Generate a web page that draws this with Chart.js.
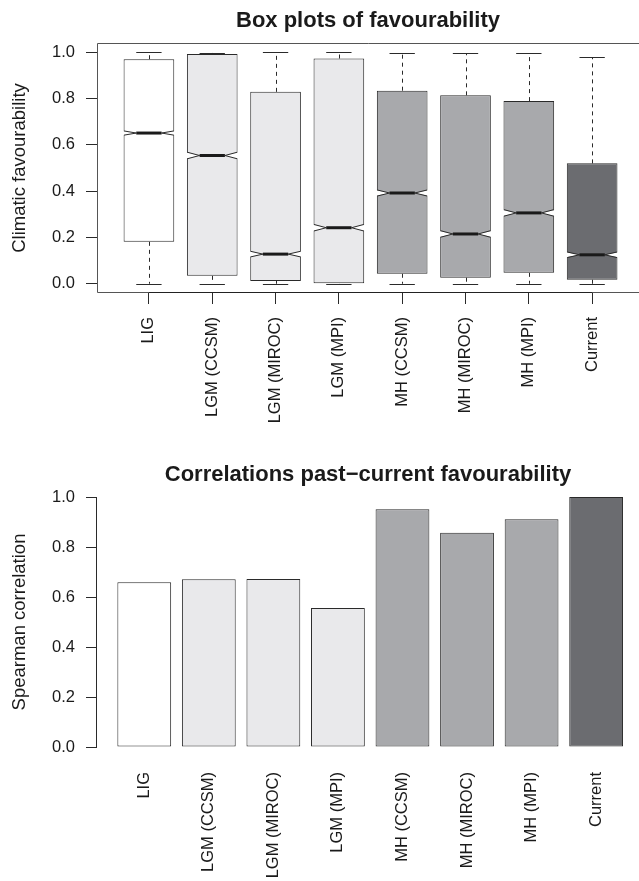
<!DOCTYPE html>
<html>
<head>
<meta charset="utf-8">
<script src="https://cdn.jsdelivr.net/npm/chart.js@4/dist/chart.umd.min.js"></script>
<style>
  body { margin: 0; background: #fff; }
  canvas { display: block; }
</style>
</head>
<body>
<canvas id="box-chart" width="639" height="430"></canvas>
<canvas id="corr-chart" width="639" height="451"></canvas>
<script>
const categories = ['LIG', 'LGM (CCSM)', 'LGM (MIROC)', 'LGM (MPI)', 'MH (CCSM)', 'MH (MIROC)', 'MH (MPI)', 'Current'];
const yTicks = [0, 0.2, 0.4, 0.6, 0.8, 1.0];

// box plot stats
const whiskerLow = [0, 0, 0, 0, 0, 0, 0, 0];
const lowerQuartile = [0.181, 0.034, 0.012, 0.0, 0.043, 0.026, 0.047, 0.017];
const medians = [0.651, 0.554, 0.128, 0.242, 0.392, 0.215, 0.306, 0.125];
const upperQuartile = [0.970, 0.993, 0.829, 0.973, 0.834, 0.814, 0.789, 0.520];
const whiskerHigh = [1.0, 0.997, 1.0, 1.0, 0.997, 0.997, 0.995, 0.978];
const notchHalf = [0.009, 0.014, 0.012, 0.014, 0.013, 0.014, 0.014, 0.012];

// spearman correlations past vs current
const correlations = [0.659, 0.671, 0.672, 0.556, 0.951, 0.857, 0.911, 1.0];

const fills = ['#ffffff', '#e9e9eb', '#e9e9eb', '#e9e9eb', '#a8a9ac', '#a8a9ac', '#a8a9ac', '#6b6c70'];
const ink = '#2a2a2a';

Chart.defaults.font.family = '"Liberation Sans", Arial, Helvetica, sans-serif';
Chart.defaults.color = '#1a1a1a';
Chart.defaults.animation = false;

const categoryTicks = (axis) => { axis.ticks = categories.map((_, i) => ({ value: i + 1 })); };
const valueTicks = (axis) => { axis.ticks = yTicks.map((value) => ({ value })); };

function line(ctx, x1, y1, x2, y2) {
  ctx.beginPath();
  ctx.moveTo(x1, y1);
  ctx.lineTo(x2, y2);
  ctx.stroke();
}

const boxExtras = {
  id: 'boxExtras',
  afterDatasetsDraw(chart) {
    const { ctx, chartArea, scales: { x, y } } = chart;
    const bars = chart.getDatasetMeta(0).data;
    ctx.save();
    ctx.strokeStyle = ink;
    ctx.lineWidth = 1;
    bars.forEach((bar, i) => {
      const cx = Math.round(bar.x) + 0.5;
      const half = bar.width / 2;
      const inset = half / 2;
      const yMed = y.getPixelForValue(medians[i]);
      const yUp = y.getPixelForValue(medians[i] + notchHalf[i]);
      const yLo = y.getPixelForValue(medians[i] - notchHalf[i]);

      ctx.setLineDash([4, 4]);
      line(ctx, cx, y.getPixelForValue(upperQuartile[i]), cx, y.getPixelForValue(whiskerHigh[i]));
      line(ctx, cx, y.getPixelForValue(lowerQuartile[i]), cx, y.getPixelForValue(whiskerLow[i]));
      ctx.setLineDash([]);
      [whiskerHigh[i], whiskerLow[i]].forEach((v) => {
        const py = Math.round(y.getPixelForValue(v)) + 0.5;
        line(ctx, bar.x - half / 2, py, bar.x + half / 2, py);
      });

      [-1, 1].forEach((side) => {
        const edge = bar.x + side * half;
        ctx.fillStyle = '#ffffff';
        ctx.beginPath();
        ctx.moveTo(edge + side * 2, yUp);
        ctx.lineTo(bar.x + side * inset, yMed);
        ctx.lineTo(edge + side * 2, yLo);
        ctx.closePath();
        ctx.fill();
        ctx.beginPath();
        ctx.moveTo(edge - side * 0.5, yUp);
        ctx.lineTo(bar.x + side * inset, yMed);
        ctx.lineTo(edge - side * 0.5, yLo);
        ctx.stroke();
      });

      ctx.lineWidth = 3;
      ctx.strokeStyle = '#1a1a1a';
      line(ctx, bar.x - inset, yMed, bar.x + inset, yMed);
      ctx.lineWidth = 1;
      ctx.strokeStyle = ink;
    });

    // plot frame (right side is cut off in the figure)
    const l = Math.round(chartArea.left) + 0.5;
    const t = Math.round(chartArea.top) + 0.5;
    const b = Math.round(chartArea.bottom) - 0.5;
    ctx.strokeStyle = '#555';
    ctx.beginPath();
    ctx.moveTo(chartArea.right, t);
    ctx.lineTo(l, t);
    ctx.lineTo(l, b);
    ctx.lineTo(chartArea.right, b);
    ctx.stroke();
    ctx.strokeStyle = '#222';
    line(ctx, x.getPixelForValue(1), b, x.getPixelForValue(categories.length), b);
    ctx.restore();
  }
};

const axisLine = {
  id: 'axisLine',
  afterDatasetsDraw(chart) {
    const { ctx, chartArea, scales: { y } } = chart;
    const px = Math.round(chartArea.left) - 0.5;
    ctx.save();
    ctx.strokeStyle = ink;
    ctx.lineWidth = 1;
    line(ctx, px, y.getPixelForValue(yTicks[0]), px, y.getPixelForValue(yTicks[yTicks.length - 1]));
    ctx.restore();
  }
};

function titleOptions(text, top, bottom) {
  return {
    display: true,
    text,
    fullSize: false,
    color: '#1a1a1a',
    font: { size: 22, weight: 'bold', lineHeight: 1.0 },
    padding: { top, bottom }
  };
}

function yAxis(title, width) {
  return {
    min: -0.04,
    max: 1.04,
    afterBuildTicks: valueTicks,
    afterFit: (axis) => { axis.width = width; },
    border: { display: false },
    grid: { drawOnChartArea: false, drawTicks: true, tickLength: 11, color: ink },
    ticks: { padding: 11, font: { size: 16.5 }, callback: (v) => Number(v).toFixed(1) },
    title: { display: true, text: title, font: { size: 18.5 }, padding: { top: 9 } }
  };
}

new Chart(document.getElementById('box-chart'), {
  type: 'bar',
  data: {
    datasets: [{
      label: 'Climatic favourability',
      data: categories.map((_, i) => ({ x: i + 1, y: [lowerQuartile[i], upperQuartile[i]] })),
      backgroundColor: fills,
      borderColor: ink,
      borderWidth: 1,
      borderSkipped: false,
      barPercentage: 0.8,
      categoryPercentage: 1
    }]
  },
  options: {
    responsive: false,
    plugins: { legend: { display: false }, tooltip: { enabled: false }, title: titleOptions('Box plots of favourability', 10, 11) },
    scales: {
      x: {
        type: 'linear',
        min: 0.18,
        max: 8.74,
        offset: false,
        afterBuildTicks: categoryTicks,
        afterFit: (axis) => { axis.height = 137; },
        border: { display: false },
        grid: { offset: false, drawOnChartArea: false, drawTicks: true, tickLength: 11, color: ink },
        ticks: { autoSkip: false, minRotation: 90, maxRotation: 90, padding: 13, font: { size: 16.5 }, callback: (v, i) => categories[i] }
      },
      y: yAxis('Climatic favourability', 97)
    }
  },
  plugins: [boxExtras]
});

new Chart(document.getElementById('corr-chart'), {
  type: 'bar',
  data: {
    datasets: [{
      label: 'Spearman correlation',
      data: categories.map((_, i) => ({ x: i + 1, y: correlations[i] })),
      backgroundColor: fills,
      borderColor: ink,
      borderWidth: 1,
      borderSkipped: false,
      barPercentage: 0.8333,
      categoryPercentage: 1
    }]
  },
  options: {
    responsive: false,
    plugins: { legend: { display: false }, tooltip: { enabled: false }, title: titleOptions('Correlations past\u2212current favourability', 34, 1) },
    scales: {
      x: {
        type: 'linear',
        min: 0.268,
        max: 8.664,
        offset: false,
        afterBuildTicks: categoryTicks,
        afterFit: (axis) => { axis.height = 124; },
        border: { display: false },
        grid: { display: false, offset: false, drawTicks: false },
        ticks: { autoSkip: false, minRotation: 90, maxRotation: 90, padding: 15, font: { size: 16.5 }, callback: (v, i) => categories[i] }
      },
      y: yAxis('Spearman correlation', 97)
    }
  },
  plugins: [axisLine]
});
</script>
</body>
</html>
